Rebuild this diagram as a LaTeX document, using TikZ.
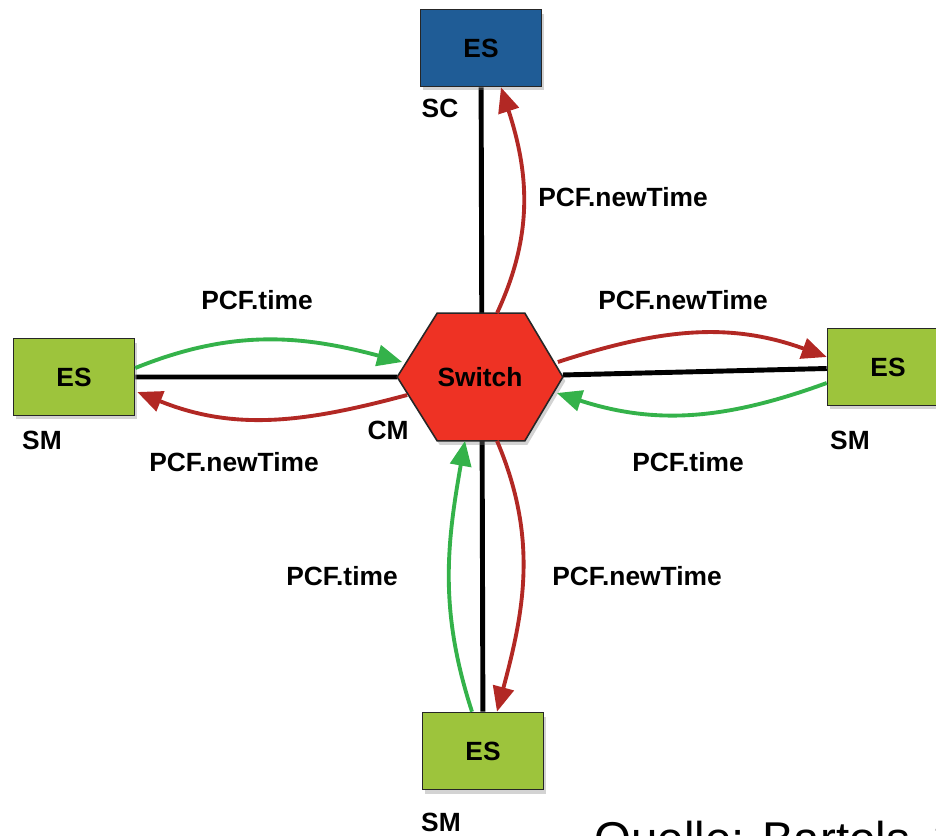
\documentclass[tikz,border=0pt]{standalone}
\usepackage{fontspec}
\setmainfont{Liberation Sans}
\usetikzlibrary{arrows.meta,calc,shadows,backgrounds}
\definecolor{esgreen}{HTML}{9DC43C}
\definecolor{esblue}{HTML}{1F5C96}
\definecolor{swred}{HTML}{EE3224}
\definecolor{arrred}{HTML}{B22824}
\definecolor{arrgreen}{HTML}{34B24A}
\begin{document}
\begin{tikzpicture}[x=0.02cm,y=0.02cm,
  every node/.style={font=\fontsize{15}{18}\selectfont\bfseries,inner sep=0pt},
  esbox/.style={rectangle,draw=black!85,line width=0.9pt,minimum width=2.42cm,minimum height=1.54cm,
    drop shadow={opacity=0.35,shadow xshift=0.05cm,shadow yshift=-0.08cm}},
  swbox/.style={rectangle,minimum width=3.3cm,minimum height=2.54cm},
  hexfill/.style={fill=swred,draw=black!85,line width=0.9pt,
    drop shadow={opacity=0.35,shadow xshift=0.05cm,shadow yshift=-0.08cm}},
  link/.style={line width=2.8pt,black},
  redarr/.style={line width=2.2pt,arrred,-{Triangle[length=0.5cm,width=0.42cm]}},
  grnarr/.style={line width=2.2pt,arrgreen,-{Triangle[length=0.5cm,width=0.42cm]}}]
  \useasboundingbox (0,0) rectangle (936,-835);
  \clip (0,0) rectangle (936,-835);

  \node[esbox,fill=esblue] (sc)  at (481,-48)  {ES};
  \node[esbox,fill=esgreen] (lsm) at (74,-377)  {ES};
  \node[esbox,fill=esgreen] (rsm) at (888,-367) {ES};
  \node[esbox,fill=esgreen] (bsm) at (483,-751) {ES};
  \node[swbox] (sw) at (480,-377) {Switch};

  \node (sclbl) at (440,-108) {SC};
  \node (lsmlbl) at (42,-440) {SM};
  \node (rsmlbl) at (850,-440) {SM};
  \node (bsmlbl) at (441,-822) {SM};
  \node (cmlbl) at (388,-430) {CM};

  \begin{scope}[on background layer]
    \draw[link] (sc) -- (bsm);
    \draw[link] (lsm) -- (sw) -- (rsm);
    \filldraw[hexfill] (sw.west) -- ($(sw.north west)+(40,0)$) -- ($(sw.north east)+(-38,0)$)
      -- (sw.east) -- ($(sw.south east)+(-38,0)$) -- ($(sw.south west)+(40,0)$) -- cycle;
  \end{scope}

  % sync messages
  \draw[redarr] ($(sw.north)+(17,0)$) to[out=65,in=-72] ($(sc.south)+(20,0)$);
  \draw[grnarr] ($(lsm.east)+(0,9)$) to[out=22,in=165] ($(sw.west)+(5,15)$);
  \draw[redarr] ($(sw.west)+(10,-18)$) to[out=195,in=-22] ($(lsm.east)+(2,-15)$);
  \draw[redarr] ($(sw.east)+(-5,15)$) to[out=18,in=160] ($(rsm.west)+(0,10)$);
  \draw[grnarr] ($(rsm.west)+(0,-16)$) to[out=200,in=-18] ($(sw.east)+(-6,-16)$);
  \draw[grnarr] ($(bsm.north)+(-11,0)$) to[out=108,in=-100] ($(sw.south)+(-15,0)$);
  \draw[redarr] ($(sw.south)+(17,0)$) to[out=-67,in=75] ($(bsm.north)+(14,0)$);

  \node (tnew)  at (623,-197) {PCF.newTime};
  \node (ltime) at (257,-300) {PCF.time};
  \node (lnew)  at (234,-462) {PCF.newTime};
  \node (rnew)  at (683,-300) {PCF.newTime};
  \node (rtime) at (688,-462) {PCF.time};
  \node (btime) at (342,-576) {PCF.time};
  \node (bnew)  at (637,-576) {PCF.newTime};

  \node[anchor=base west,font=\fontsize{27}{32}\selectfont] (src) at (594,-855) {Quelle: Bartols\hspace{6pt} 2};
\end{tikzpicture}
\end{document}
